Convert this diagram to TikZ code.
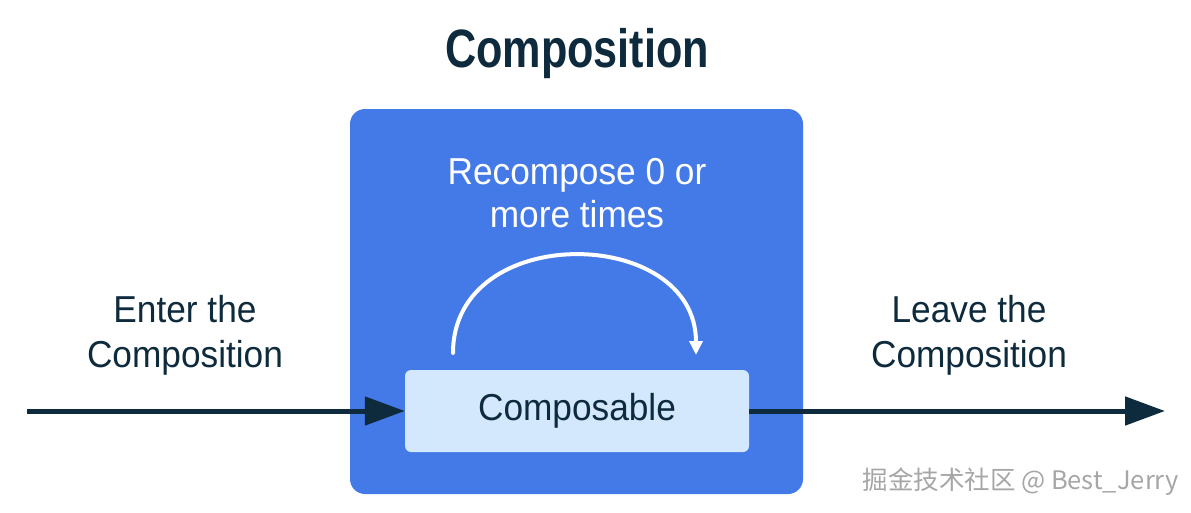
\documentclass[tikz,border=0pt]{standalone}
\usepackage{fontspec}
\setmainfont{Liberation Sans}[FakeStretch=0.94]
\newfontfamily\titlefont{Liberation Sans}[FakeStretch=0.8]
\newfontfamily\cjkfont{Noto Sans CJK SC}
\usetikzlibrary{arrows.meta,positioning}

\definecolor{ink}{HTML}{0E2A3D}
\definecolor{panelblue}{HTML}{4479E8}
\definecolor{paleblue}{HTML}{D3E8FD}

\begin{document}
\begin{tikzpicture}[x=1pt, y=-1pt,
    txt/.style = {text=ink, align=center, font=\fontsize{37.5}{45}\selectfont},
    flow/.style = {draw=ink, line width=5pt, -{Triangle[length=40pt,width=28pt]}},
    loop/.style = {draw=white, line width=4pt, line cap=round, -{Triangle[length=14pt,width=13pt]}}]
   \useasboundingbox (0,0) rectangle (1191,512);
   \node[fill=panelblue, rounded corners=15pt, minimum width=453pt, minimum height=385pt, inner sep=0pt] (panel) at (576.5,301.5) {};
   \node[fill=paleblue, rounded corners=6pt, minimum width=344pt, minimum height=82pt, inner sep=0pt, txt] (comp) at (577,411) {Composable};
   \node[anchor=base, text=ink, font=\titlefont\bfseries\fontsize{54}{60}\selectfont] (title) at (577,67) {Composition};
   \node[txt, text=white, font=\fontsize{37.5}{43}\selectfont] (again) at (577,193) {Recompose 0 or\\more times};
   \node[txt] (enter) at (185,335) {Enter the\\Composition};
   \node[txt] (leave) at (969,335) {Leave the\\Composition};
   \node[anchor=base west, text=gray!70, font=\cjkfont\fontsize{25.5}{28}\selectfont] (mark) at (859,489) {掘金技术社区 @ Best\_Jerry};
   \coordinate (in) at (27,411);
   \coordinate (out) at (1165,411);
   \coordinate (loopA) at (453,353);
   \coordinate (loopB) at (696,355);
   \draw[flow] (in) -- (comp.west);
   \draw[flow] (comp.east) -- (out);
   \draw[loop] (loopA) .. controls +(0,-132) and +(0,-130) .. (loopB);
\end{tikzpicture}
\end{document}
